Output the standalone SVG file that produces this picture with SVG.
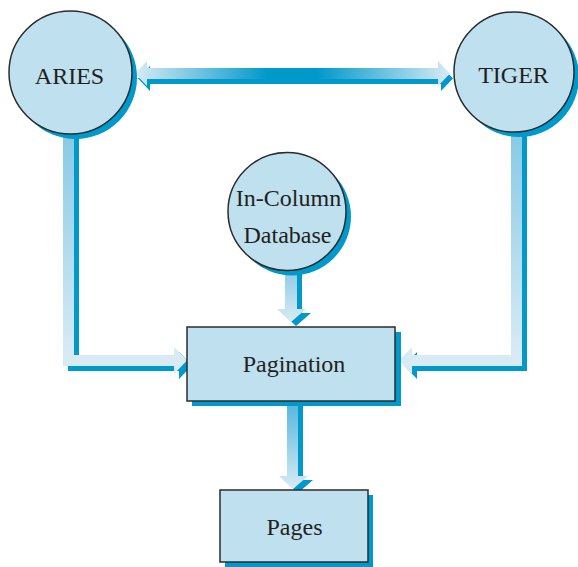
<svg xmlns="http://www.w3.org/2000/svg" width="578" height="567" viewBox="0 0 578 567">
  <defs>
    <style>
      .node { fill: #bfe0ef; stroke: #2b2b2b; stroke-width: 1.5; }
      .shadow { fill: #0099cc; }
      .label { font-family: "Liberation Serif", "Times New Roman", serif; font-size: 24px; fill: #231f20; text-anchor: middle; }
    </style>
    <linearGradient id="gH" gradientUnits="userSpaceOnUse" x1="135" y1="0" x2="450" y2="0">
      <stop offset="0" stop-color="#d8ebf4"/>
      <stop offset="0.42" stop-color="#0099cc"/>
      <stop offset="0.58" stop-color="#0099cc"/>
      <stop offset="1" stop-color="#d8ebf4"/>
    </linearGradient>
    <linearGradient id="gAries" gradientUnits="userSpaceOnUse" x1="0" y1="130" x2="0" y2="355">
      <stop offset="0" stop-color="#86c9e5"/>
      <stop offset="1" stop-color="#d8ebf4"/>
    </linearGradient>
    <linearGradient id="gTiger" gradientUnits="userSpaceOnUse" x1="0" y1="128" x2="0" y2="355">
      <stop offset="0" stop-color="#86c9e5"/>
      <stop offset="1" stop-color="#d8ebf4"/>
    </linearGradient>
    <linearGradient id="gDb" gradientUnits="userSpaceOnUse" x1="0" y1="268" x2="0" y2="322">
      <stop offset="0" stop-color="#8acae6"/>
      <stop offset="1" stop-color="#d8ebf4"/>
    </linearGradient>
    <linearGradient id="gPg" gradientUnits="userSpaceOnUse" x1="0" y1="400" x2="0" y2="489">
      <stop offset="0" stop-color="#4fb6de"/>
      <stop offset="1" stop-color="#d8ebf4"/>
    </linearGradient>
  </defs>

  <g id="connectors">
    <!-- ARIES <-> TIGER -->
    <g id="c-aries-tiger">
      <polygon class="shadow" transform="translate(3,5)" points="135,73.5 147,61 147,68 438,68 438,61 450,73.5 438,86 438,79 147,79 147,86"/>
      <polygon fill="url(#gH)" points="135,73.5 147,61 147,68 438,68 438,61 450,73.5 438,86 438,79 147,79 147,86"/>
    </g>
    <!-- ARIES -> Pagination -->
    <g id="c-aries-pagination">
      <polygon class="shadow" transform="translate(5,5)" points="63,130 74,130 74,355 174,355 174,347 187,360.5 174,374 174,366 63,366"/>
      <polygon fill="url(#gAries)" points="63,130 74,130 74,355 174,355 174,347 187,360.5 174,374 174,366 63,366"/>
    </g>
    <!-- TIGER -> Pagination -->
    <g id="c-tiger-pagination">
      <polygon class="shadow" transform="translate(5,5)" points="511,128 522,128 522,366 412,366 412,374 399,360.5 412,347 412,355 511,355"/>
      <polygon fill="url(#gTiger)" points="511,128 522,128 522,366 412,366 412,374 399,360.5 412,347 412,355 511,355"/>
    </g>
    <!-- In-Column Database -> Pagination -->
    <g id="c-db-pagination">
      <polygon class="shadow" transform="translate(5,4)" points="285,268 297,268 297,309 306,309 291,322 277,309 285,309"/>
      <polygon fill="url(#gDb)" points="285,268 297,268 297,309 306,309 291,322 277,309 285,309"/>
    </g>
    <!-- Pagination -> Pages -->
    <g id="c-pagination-pages">
      <polygon class="shadow" transform="translate(5,4)" points="287,400 298,400 298,476 308,476 293,489 279,476 287,476"/>
      <polygon fill="url(#gPg)" points="287,400 298,400 298,476 308,476 293,489 279,476 287,476"/>
    </g>
  </g>

  <g id="aries">
    <circle class="shadow" cx="75.5" cy="77.5" r="61.5"/>
    <circle class="node" cx="70.5" cy="72.5" r="61.5"/>
    <text class="label" x="69.5" y="84">ARIES</text>
  </g>

  <g id="tiger">
    <circle class="shadow" cx="519" cy="77" r="60"/>
    <circle class="node" cx="514" cy="72" r="60"/>
    <text class="label" x="513.5" y="83">TIGER</text>
  </g>

  <g id="in-column-database">
    <circle class="shadow" cx="292" cy="216.5" r="59"/>
    <circle class="node" cx="287" cy="211.5" r="59"/>
    <text class="label" x="288.5" y="206">In-Column</text>
    <text class="label" x="287.5" y="243">Database</text>
  </g>

  <g id="pagination">
    <rect class="shadow" x="192" y="332" width="209" height="74"/>
    <rect class="node" x="187" y="327" width="208" height="74"/>
    <text class="label" x="294" y="372">Pagination</text>
  </g>

  <g id="pages">
    <rect class="shadow" x="225" y="495" width="148" height="72"/>
    <rect class="node" x="220" y="490" width="148" height="72"/>
    <text class="label" x="294.5" y="535">Pages</text>
  </g>
</svg>
